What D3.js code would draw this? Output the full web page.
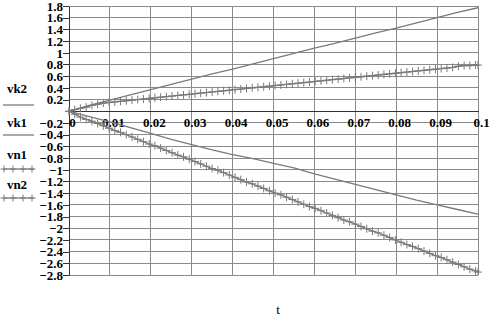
<!DOCTYPE html>
<html>
<head>
<meta charset="UTF-8">
<script src="https://d3js.org/d3.v7.min.js"></script>
<style>
  body { margin: 0; background: #fff; }
  svg text { font-family: "Liberation Serif", "Times New Roman", "DejaVu Serif", serif; font-weight: bold; font-size: 13px; fill: #000; }
</style>
</head>
<body>
<div id="chart"></div>
<script>
// x ticks and y ticks as shown on the plot
const xTicks = [0, 0.01, 0.02, 0.03, 0.04, 0.05, 0.06, 0.07, 0.08, 0.09, 0.1];
const yTicks = [1.8, 1.6, 1.4, 1.2, 1, 0.8, 0.6, 0.4, 0.2, -0.2, -0.4, -0.6, -0.8, -1, -1.2, -1.4,
                -1.6, -1.8, -2, -2.2, -2.4, -2.6, -2.8];
const yGrid = [1.8, 1.6, 1.4, 1.2, 1, 0.8, 0.6, 0.4, 0.2, 0, -0.2, -0.4, -0.6, -0.8, -1, -1.2, -1.4,
               -1.6, -1.8, -2, -2.2, -2.4, -2.6, -2.8];

// solid curves (vk2, vk1)
const tk = [0, 0.005, 0.01, 0.015, 0.02, 0.025, 0.03, 0.035, 0.04, 0.045, 0.05,
            0.055, 0.06, 0.065, 0.07, 0.075, 0.08, 0.085, 0.09, 0.095, 0.1];
const vk2 = [0, 0.10, 0.19, 0.28, 0.37, 0.46, 0.55, 0.64, 0.72, 0.81, 0.90,
             0.99, 1.08, 1.16, 1.25, 1.34, 1.42, 1.51, 1.60, 1.69, 1.77];
const vk1 = [0, -0.09, -0.18, -0.28, -0.38, -0.48, -0.57, -0.66, -0.74, -0.81, -0.89,
             -0.97, -1.07, -1.16, -1.25, -1.34, -1.43, -1.52, -1.60, -1.68, -1.76];

// sampled curves with + markers (vn1, vn2)
const tn = [0, 0.0014, 0.0028, 0.0042, 0.0056, 0.007, 0.0084, 0.0098, 0.0112, 0.0126,
            0.014, 0.0154, 0.0168, 0.0182, 0.0196, 0.021, 0.0224, 0.0238, 0.0252, 0.0266,
            0.028, 0.0294, 0.0308, 0.0322, 0.0336, 0.035, 0.0364, 0.0378, 0.0392, 0.0406,
            0.042, 0.0434, 0.0448, 0.0462, 0.0476, 0.049, 0.0504, 0.0518, 0.0532, 0.0546,
            0.056, 0.0574, 0.0588, 0.0602, 0.0616, 0.063, 0.0644, 0.0658, 0.0672, 0.0686,
            0.07, 0.0714, 0.0728, 0.0742, 0.0756, 0.077, 0.0784, 0.0798, 0.0812, 0.0826,
            0.084, 0.0854, 0.0868, 0.0882, 0.0896, 0.091, 0.0924, 0.0938, 0.0952, 0.0966,
            0.098, 0.0994, 0.1];
const vn1 = [0, 0.03, 0.05, 0.07, 0.10, 0.12, 0.14, 0.15, 0.16, 0.17,
             0.18, 0.19, 0.20, 0.21, 0.22, 0.23, 0.24, 0.25, 0.26, 0.27,
             0.28, 0.29, 0.30, 0.31, 0.32, 0.33, 0.34, 0.35, 0.36, 0.37,
             0.38, 0.39, 0.40, 0.41, 0.42, 0.43, 0.44, 0.45, 0.46, 0.47,
             0.48, 0.49, 0.50, 0.51, 0.52, 0.53, 0.54, 0.55, 0.56, 0.57,
             0.58, 0.59, 0.60, 0.61, 0.62, 0.63, 0.64, 0.65, 0.66, 0.67,
             0.68, 0.69, 0.70, 0.71, 0.72, 0.73, 0.74, 0.75, 0.77, 0.78,
             0.78, 0.79, 0.79];
const vn2 = [0, -0.05, -0.10, -0.14, -0.17, -0.21, -0.25, -0.29, -0.33, -0.36,
             -0.40, -0.44, -0.48, -0.52, -0.56, -0.59, -0.63, -0.67, -0.71, -0.75,
             -0.78, -0.82, -0.86, -0.90, -0.94, -0.98, -1.01, -1.05, -1.09, -1.13,
             -1.17, -1.21, -1.24, -1.28, -1.32, -1.36, -1.40, -1.43, -1.47, -1.51,
             -1.55, -1.59, -1.63, -1.66, -1.70, -1.74, -1.78, -1.82, -1.86, -1.89,
             -1.93, -1.97, -2.01, -2.05, -2.08, -2.12, -2.16, -2.20, -2.24, -2.28,
             -2.31, -2.35, -2.39, -2.43, -2.47, -2.50, -2.54, -2.58, -2.62, -2.66,
             -2.70, -2.73, -2.75];

const W = 491, H = 318;
const lineColor = "#7a7a7a";

const svg = d3.select("#chart").append("svg")
  .attr("width", W)
  .attr("height", H);

const x = d3.scaleLinear().domain([0, 0.1]).range([69, 478]);
const y = d3.scaleLinear().domain([-2.8, 1.8]).range([275, 6]);

// grid
svg.append("g").selectAll("line")
  .data(xTicks)
  .join("line")
  .attr("x1", d => x(d)).attr("x2", d => x(d))
  .attr("y1", y(1.8)).attr("y2", y(-2.8))
  .attr("stroke", "#8a8a8a")
  .attr("stroke-width", 1)
  .attr("shape-rendering", "crispEdges");

svg.append("g").selectAll("line")
  .data(yGrid)
  .join("line")
  .attr("x1", x(0)).attr("x2", x(0.1))
  .attr("y1", d => y(d)).attr("y2", d => y(d))
  .attr("stroke", "#8a8a8a")
  .attr("stroke-width", 1)
  .attr("shape-rendering", "crispEdges");

// y axis at t = 0
const yAxis = svg.append("g")
  .attr("transform", `translate(${x(0)},0)`)
  .call(d3.axisLeft(y).tickValues(yTicks).tickSize(6).tickSizeOuter(0)
    .tickFormat(d => String(d).replace("-", "\u2212")));
yAxis.attr("font-family", null).attr("font-size", null);
yAxis.select(".domain").attr("stroke", "#333").attr("shape-rendering", "crispEdges");
yAxis.selectAll(".tick line").attr("stroke", "#333").attr("shape-rendering", "crispEdges");
yAxis.selectAll("text")
  .attr("x", -6)
  .attr("dy", "0.33em");

// x axis on the zero line
const xAxis = svg.append("g")
  .attr("transform", `translate(0,${y(0)})`)
  .call(d3.axisBottom(x).tickValues(xTicks).tickSize(0).tickSizeOuter(0)
    .tickFormat(d => String(d)));
xAxis.attr("font-family", null).attr("font-size", null);
xAxis.select(".domain").attr("stroke", "#333").attr("shape-rendering", "crispEdges");
xAxis.selectAll("text")
  .attr("y", 7)
  .attr("dx", 3);

// curves
const line = d3.line().x(d => x(d[0])).y(d => y(d[1]));

[vk2, vk1].forEach(vals => {
  svg.append("path")
    .datum(tk.map((t, i) => [t, vals[i]]))
    .attr("fill", "none")
    .attr("stroke", lineColor)
    .attr("stroke-width", 1.3)
    .attr("d", line);
});

function plus(g, px, py, r) {
  g.append("line").attr("x1", px - r).attr("x2", px + r).attr("y1", py).attr("y2", py);
  g.append("line").attr("x1", px).attr("x2", px).attr("y1", py - r).attr("y2", py + r);
}

[vn1, vn2].forEach(vals => {
  const pts = tn.map((t, i) => [t, vals[i]]);
  svg.append("path")
    .datum(pts)
    .attr("fill", "none")
    .attr("stroke", lineColor)
    .attr("stroke-width", 1.3)
    .attr("d", line);
  const g = svg.append("g").attr("stroke", lineColor).attr("stroke-width", 1);
  pts.forEach(p => plus(g, x(p[0]), y(p[1]), 4));
});

// legend at the left
const legend = [
  { name: "vk2", ty: 93, ly: 105, marks: false },
  { name: "vk1", ty: 127, ly: 135, marks: false },
  { name: "vn1", ty: 159, ly: 169, marks: true },
  { name: "vn2", ty: 189, ly: 198, marks: true }
];
legend.forEach(l => {
  svg.append("text")
    .attr("x", 17).attr("y", l.ty)
    .attr("text-anchor", "middle")
    .text(l.name);
  svg.append("line")
    .attr("x1", 3).attr("x2", 34)
    .attr("y1", l.ly).attr("y2", l.ly)
    .attr("stroke", lineColor)
    .attr("stroke-width", 1.3);
  if (l.marks) {
    const g = svg.append("g").attr("stroke", lineColor).attr("stroke-width", 1);
    [4, 13, 23, 32].forEach(px => plus(g, px, l.ly, 3.5));
  }
});

// axis title
svg.append("text")
  .attr("x", 278).attr("y", 314)
  .attr("text-anchor", "middle")
  .style("font-weight", "normal")
  .text("t");
</script>
</body>
</html>
